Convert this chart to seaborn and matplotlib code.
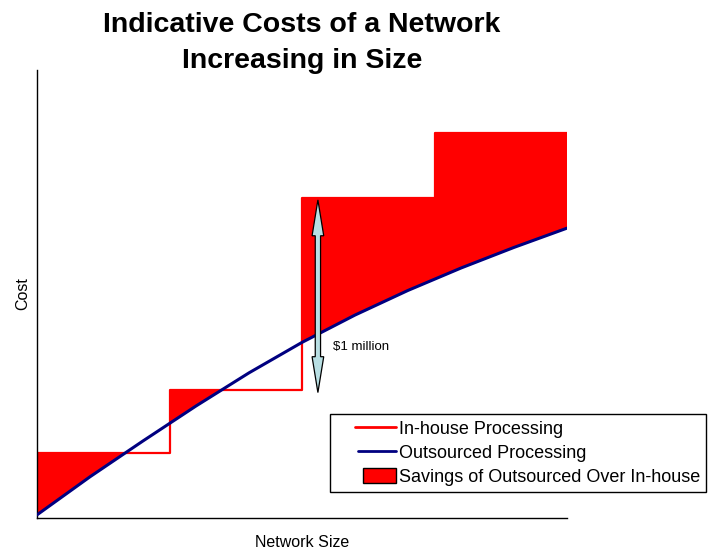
import numpy as np
import pandas as pd
import matplotlib
matplotlib.use("Agg")
import matplotlib.pyplot as plt
import seaborn as sns
from matplotlib.patches import Patch, Polygon
from matplotlib.lines import Line2D
from matplotlib.legend_handler import HandlerLine2D, HandlerPatch

# step edges and in-house cost levels
step_x = [0, 2.5, 5, 7.5, 10]
inhouse_cost = [1.45, 2.86, 7.14, 8.6, 8.6]

# outsourced cost curve
out_x = [0, 1, 2, 3, 4, 5, 6, 7, 8, 9, 10]
outsourced_cost = [0.07, 0.92, 1.72, 2.5, 3.24, 3.92, 4.53, 5.08, 5.58, 6.04, 6.47]

arrow_x = 5.3
arrow_top = 7.1
arrow_bottom = 2.8
arrow_label = "$1 million"
arrow_label_y = 3.82

sns.set_style("white")
plt.rcParams['font.family'] = ['Liberation Sans', 'DejaVu Sans']
plt.rcParams['text.color'] = 'black'
plt.rcParams['axes.labelcolor'] = 'black'

fig = plt.figure(figsize=(7.14, 5.5), dpi=100)
ax = fig.add_axes([37 / 714, 1 - 518 / 550, 530 / 714, 448 / 550])

# savings area: where in-house is above outsourced
grid = np.linspace(0, 10, 2001)
step_on_grid = np.array(inhouse_cost)[np.clip(np.searchsorted(step_x, grid, side="right") - 1, 0, 4)]
curve_on_grid = np.interp(grid, out_x, outsourced_cost)
ax.fill_between(grid, curve_on_grid, step_on_grid, where=step_on_grid > curve_on_grid,
                interpolate=True, color="#ff0000", linewidth=0, zorder=1)

steps = pd.DataFrame({"x": step_x, "cost": inhouse_cost})
sns.lineplot(data=steps, x="x", y="cost", drawstyle="steps-post", color="#ff0000",
             linewidth=1.6, ax=ax, zorder=2)
curve = pd.DataFrame({"x": out_x, "cost": outsourced_cost})
sns.lineplot(data=curve, x="x", y="cost", color="#000080", linewidth=2.2, ax=ax, zorder=3)

# double-headed fat arrow (sizes in data units, axes are fixed 0..10)
head_len, head_half, shaft_half = 0.8, 0.11, 0.05
ax_pts = [
    (arrow_x, arrow_top),
    (arrow_x + head_half, arrow_top - head_len),
    (arrow_x + shaft_half, arrow_top - head_len),
    (arrow_x + shaft_half, arrow_bottom + head_len),
    (arrow_x + head_half, arrow_bottom + head_len),
    (arrow_x, arrow_bottom),
    (arrow_x - head_half, arrow_bottom + head_len),
    (arrow_x - shaft_half, arrow_bottom + head_len),
    (arrow_x - shaft_half, arrow_top - head_len),
    (arrow_x - head_half, arrow_top - head_len),
]
ax.add_patch(Polygon(ax_pts, closed=True, facecolor="#b8dfe3", edgecolor="black",
                     linewidth=0.9, zorder=4))
ax.text(arrow_x + 0.28, arrow_label_y, arrow_label, fontsize=9.5, va="center", ha="left", zorder=5)

ax.set_xlim(0, 10)
ax.set_ylim(0, 10)
ax.set_xticks([])
ax.set_yticks([])
sns.despine(ax=ax)
for s in ("left", "bottom"):
    ax.spines[s].set_color("black")
    ax.spines[s].set_linewidth(1.0)

ax.set_xlabel("Network Size", fontsize=11.5, labelpad=12)
ax.set_ylabel("Cost", fontsize=11.5, labelpad=5)
fig.suptitle("Indicative Costs of a Network\nIncreasing in Size", fontsize=20.5,
             fontweight="bold", x=302 / 714, y=1 - 43 / 550, va="center", linespacing=1.45,
             color="black")

handles = [Line2D([0], [0], color="#ff0000", lw=2),
           Line2D([0], [0], color="#000080", lw=2),
           Patch(facecolor="#ff0000", edgecolor="black", lw=1)]
labels = ["In-house Processing", "Outsourced Processing", "Savings of Outsourced Over In-house"]
hmap = {handles[0]: HandlerLine2D(xpad=1.05),
        handles[1]: HandlerLine2D(xpad=1.2),
        handles[2]: HandlerPatch(xpad=1.5)}
leg = fig.legend(handles, labels, loc="upper left", bbox_to_anchor=(330 / 714, 1 - 414 / 550),
                 fontsize=13, frameon=True, fancybox=False, framealpha=1, handler_map=hmap,
                 handlelength=3.3, handleheight=0.9, handletextpad=0.15, borderpad=0.35,
                 labelspacing=0.35, borderaxespad=0)
leg.get_frame().set_edgecolor("black")
leg.get_frame().set_linewidth(1.0)

fig.savefig("out.png", dpi=100)
